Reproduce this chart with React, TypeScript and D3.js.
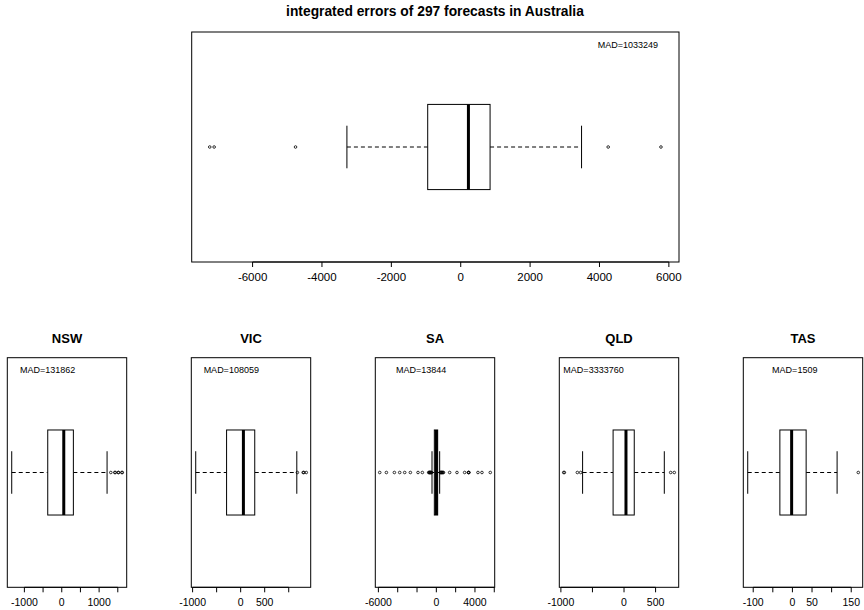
import * as d3 from "d3";

// one entry per panel: Australia (top), then the five states
const panelNames = ["Australia", "NSW", "VIC", "SA", "QLD", "TAS"];
const whiskerLow = [-3281, -1339, -935, -448, -656, -114];
const q1 = [-952, -375, -293, -207, -173, -32];
const median = [222, 54, 57, 0, 31, -2];
const q3 = [846, 311, 293, 138, 162, 35];
const whiskerHigh = [3483, 1213, 1168, 345, 638, 114];
const outliers = [
  [-7235, -7108, -4762, 4251, 5772],
  [1313, 1420, 1432, 1510, 1522, 1608, 1620],
  [1180, 1300, 1315, 1365],
  [
    -5862, -5172, -4345, -3793, -3276, -2690, -1897, -1448, -790, -740, -700, -660, -620, -580, -540,
    -500, 420, 470, 520, 570, 620, 680, 740, 1379, 2138, 2931, 3320, 3350, 3380, 4310, 4724, 5586,
  ],
  [-955, -945, -739, -687, 739, 796],
  [168],
];
const madValues = ["1033249", "131862", "108059", "13844", "3333760", "1509"];
const madLabelAt = [4820, -375, -195, -1583, -483, 6];
const tickValues = [
  [-6000, -4000, -2000, 0, 2000, 4000, 6000],
  [-1000, -500, 0, 500, 1000, 1500],
  [-1000, -500, 0, 500, 1000],
  [-6000, -4000, -2000, 0, 2000, 4000, 6000],
  [-1000, -500, 0, 500],
  [-100, -50, 0, 50, 100, 150],
];
const tickLabels = [
  ["-6000", "-4000", "-2000", "0", "2000", "4000", "6000"],
  ["-1000", "", "0", "", "1000", ""],
  ["-1000", "", "0", "500", ""],
  ["-6000", "", "", "0", "", "4000", ""],
  ["-1000", "", "0", "500"],
  ["-100", "", "0", "50", "", "150"],
];

const mainTitle = "integrated errors of 297 forecasts in Australia";
const font = "'Liberation Sans', Arial, Helvetica, sans-serif";

function BoxPanel({ i, x0, x1, y0, y1, title, tickSize, madY, titleY }) {
  const all = [whiskerLow[i], whiskerHigh[i], ...outliers[i]];
  const lo = d3.min(all), hi = d3.max(all);
  const pad = (hi - lo) * 0.04;
  const x = d3.scaleLinear().domain([lo - pad, hi + pad]).range([x0, x1]);
  const y = d3.scaleLinear().domain([0.46, 1.54]).range([y1, y0]);
  const cy = y(1);

  return (
    <g>
      {title && (
        <text x={(x0 + x1) / 2} y={titleY} textAnchor="middle" fontWeight="bold" fontSize={title.size}>
          {title.text}
        </text>
      )}
      <rect x={x0} y={y0} width={x1 - x0} height={y1 - y0} fill="none" stroke="#000" strokeWidth={1} />
      <text x={x(madLabelAt[i])} y={madY} textAnchor="middle" fontSize={9}>
        MAD={madValues[i]}
      </text>
      {/* whiskers */}
      <line x1={x(whiskerLow[i])} x2={x(q1[i])} y1={cy} y2={cy} stroke="#000" strokeDasharray="4,3" />
      <line x1={x(q3[i])} x2={x(whiskerHigh[i])} y1={cy} y2={cy} stroke="#000" strokeDasharray="4,3" />
      <line x1={x(whiskerLow[i])} x2={x(whiskerLow[i])} y1={y(0.9)} y2={y(1.1)} stroke="#000" />
      <line x1={x(whiskerHigh[i])} x2={x(whiskerHigh[i])} y1={y(0.9)} y2={y(1.1)} stroke="#000" />
      {/* box */}
      <rect
        x={x(q1[i])}
        y={y(1.2)}
        width={x(q3[i]) - x(q1[i])}
        height={y(0.8) - y(1.2)}
        fill="#fff"
        stroke="#000"
      />
      <line x1={x(median[i])} x2={x(median[i])} y1={y(1.2)} y2={y(0.8)} stroke="#000" strokeWidth={3} />
      {outliers[i].map((v, k) => (
        <circle key={k} cx={x(v)} cy={cy} r={1.3} fill="none" stroke="#000" strokeWidth={0.8} />
      ))}
      {/* axis */}
      <line
        x1={x(tickValues[i][0])}
        x2={x(tickValues[i][tickValues[i].length - 1])}
        y1={y1}
        y2={y1}
        stroke="#000"
      />
      {tickValues[i].map((t, k) => (
        <g key={k}>
          <line x1={x(t)} x2={x(t)} y1={y1} y2={y1 + 5} stroke="#000" />
          <text x={x(t)} y={y1 + 15 + tickSize * 0.36} textAnchor="middle" fontSize={tickSize}>
            {tickLabels[i][k]}
          </text>
        </g>
      ))}
    </g>
  );
}

export default function App() {
  const W = 864, H = 610;
  return (
    <svg
      width={W}
      height={H}
      style={{ position: "absolute", left: 0, top: 0, background: "#fff" }}
      fontFamily={font}
    >
      <rect width={W} height={H} fill="#fff" />
      <text x={435} y={16} textAnchor="middle" fontWeight="bold" fontSize={13.8}>
        {mainTitle}
      </text>
      <BoxPanel i={0} x0={191.7} x1={679} y0={32} y1={262} tickSize={11.5} madY={47.9} />
      {panelNames.slice(1).map((name, k) => {
        const x0 = 7.3 + 184 * k;
        return (
          <BoxPanel
            key={name}
            i={k + 1}
            x0={x0}
            x1={x0 + 119.4}
            y0={357.7}
            y1={587.3}
            tickSize={10.5}
            madY={373.2}
            titleY={342.5}
            title={{ text: name, size: 13 }}
          />
        );
      })}
    </svg>
  );
}
